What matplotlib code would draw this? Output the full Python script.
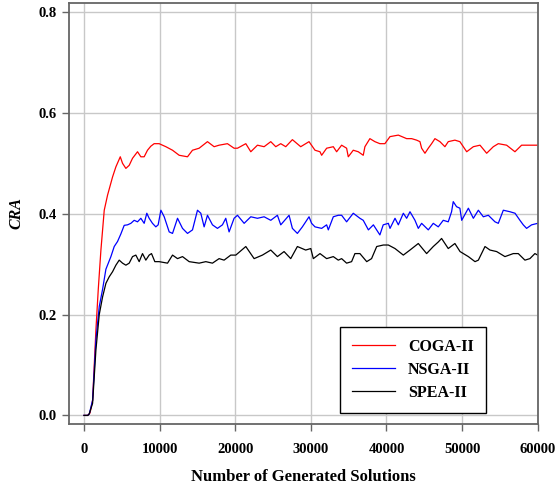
import matplotlib
matplotlib.use("Agg")
import matplotlib.pyplot as plt

# number of generated solutions and CRA values for each algorithm
coga_x = [0, 500, 800, 1140, 1580, 1890, 2240, 2680, 3120, 3780, 4220, 4800, 5100,
          5540, 5980, 6420, 7080, 7520, 7960, 8400, 8840, 9280, 9940, 10830, 11710,
          12590, 13690, 14350, 15230, 16330, 17210, 17870, 18970, 19850, 20300, 21400,
          22060, 22940, 23820, 24700, 25360, 26020, 26680, 27560, 28660, 29760, 30550,
          31210, 31430, 32090, 32970, 33410, 34070, 34730, 34950, 35610, 36270, 36930,
          37150, 37810, 38470, 39130, 39790, 40470, 41570, 42670, 43330, 43990, 44430,
          44650, 45090, 45530, 45970, 46410, 47070, 47730, 48170, 49050, 49710, 50610,
          51490, 52370, 53250, 54130, 54790, 55890, 56990, 57870, 58970, 60000]
coga_y = [0, 0, 0.005, 0.030, 0.170, 0.250, 0.328, 0.407, 0.437, 0.473, 0.493, 0.513,
          0.500, 0.490, 0.496, 0.510, 0.523, 0.513, 0.513, 0.526, 0.534, 0.539, 0.539,
          0.533, 0.526, 0.516, 0.513, 0.526, 0.530, 0.543, 0.533, 0.536, 0.539, 0.530,
          0.530, 0.539, 0.523, 0.536, 0.533, 0.543, 0.533, 0.539, 0.533, 0.547, 0.533,
          0.543, 0.526, 0.523, 0.516, 0.530, 0.533, 0.523, 0.536, 0.530, 0.513, 0.526,
          0.523, 0.516, 0.533, 0.549, 0.543, 0.539, 0.539, 0.553, 0.556, 0.549, 0.549,
          0.546, 0.543, 0.530, 0.520, 0.530, 0.539, 0.549, 0.543, 0.533, 0.543, 0.546,
          0.543, 0.523, 0.533, 0.536, 0.520, 0.533, 0.539, 0.536, 0.523, 0.536, 0.536,
          0.536]

nsga_x = [0, 500, 700, 1140, 1580, 2020, 2460, 2900, 3560, 4000, 4440, 4880, 5320,
          5760, 6200, 6640, 7080, 7520, 7960, 8310, 8620, 9060, 9500, 9810, 10170,
          10610, 11270, 11710, 12370, 13030, 13690, 14350, 15010, 15450, 15890, 16330,
          16990, 17650, 18310, 18750, 19190, 19850, 20300, 21180, 22060, 22940, 23820,
          24700, 25580, 26020, 27120, 27560, 28220, 28880, 29760, 30100, 30550, 31430,
          32090, 32310, 32970, 33630, 34070, 34730, 35610, 36490, 36930, 37610, 38270,
          39130, 39570, 40250, 40470, 41130, 41570, 42230, 42670, 43110, 43770, 44210,
          44650, 45530, 46190, 46850, 47510, 48170, 48610, 48830, 49270, 49710, 49950,
          50830, 51490, 52150, 52810, 53470, 54350, 54790, 55450, 56330, 57000, 57650,
          58090, 58530, 59190, 60000]
nsga_y = [0, 0, 0.003, 0.030, 0.150, 0.216, 0.250, 0.290, 0.315, 0.335, 0.345, 0.360,
          0.377, 0.378, 0.381, 0.387, 0.384, 0.391, 0.381, 0.401, 0.391, 0.381, 0.374,
          0.378, 0.407, 0.394, 0.364, 0.361, 0.391, 0.371, 0.361, 0.368, 0.407, 0.401,
          0.374, 0.397, 0.378, 0.371, 0.378, 0.391, 0.364, 0.391, 0.397, 0.381, 0.394,
          0.391, 0.394, 0.387, 0.397, 0.378, 0.397, 0.371, 0.361, 0.374, 0.394, 0.381,
          0.374, 0.371, 0.378, 0.368, 0.394, 0.397, 0.397, 0.384, 0.401, 0.391, 0.387,
          0.368, 0.378, 0.358, 0.378, 0.381, 0.371, 0.391, 0.378, 0.401, 0.391, 0.404,
          0.387, 0.371, 0.381, 0.368, 0.381, 0.374, 0.387, 0.384, 0.404, 0.424, 0.414,
          0.411, 0.387, 0.411, 0.391, 0.407, 0.394, 0.397, 0.384, 0.381, 0.407, 0.404,
          0.401, 0.387, 0.378, 0.371, 0.378, 0.381]

spea_x = [0, 500, 700, 1140, 1580, 2020, 2460, 2900, 3340, 3780, 4220, 4660, 5100,
          5540, 5980, 6420, 6860, 7300, 7740, 8180, 8620, 8930, 9370, 9940, 11050,
          11710, 12370, 13030, 13910, 15230, 16110, 16990, 17870, 18530, 19410, 20080,
          21400, 22500, 23600, 24700, 25580, 26460, 27340, 28220, 29320, 29990, 30330,
          31210, 32090, 32970, 33630, 34070, 34730, 35390, 35830, 36490, 37390, 38030,
          38710, 39590, 40250, 41130, 42230, 43110, 44210, 45310, 46190, 46850, 47290,
          48170, 49050, 49730, 50830, 51710, 52150, 53030, 53690, 54570, 55670, 56770,
          57430, 58310, 58970, 59630, 60000]
spea_y = [0, 0, 0.003, 0.024, 0.130, 0.200, 0.235, 0.262, 0.275, 0.285, 0.298, 0.308,
          0.302, 0.298, 0.302, 0.315, 0.318, 0.305, 0.321, 0.308, 0.318, 0.321, 0.305,
          0.305, 0.302, 0.318, 0.311, 0.315, 0.305, 0.302, 0.305, 0.302, 0.311, 0.308,
          0.318, 0.318, 0.335, 0.311, 0.318, 0.328, 0.315, 0.325, 0.311, 0.335, 0.328,
          0.331, 0.311, 0.321, 0.311, 0.315, 0.308, 0.311, 0.302, 0.305, 0.321, 0.321,
          0.305, 0.311, 0.335, 0.338, 0.338, 0.331, 0.318, 0.328, 0.341, 0.321, 0.335,
          0.344, 0.351, 0.331, 0.341, 0.325, 0.315, 0.305, 0.308, 0.335, 0.328, 0.325,
          0.315, 0.321, 0.321, 0.308, 0.311, 0.321, 0.318]

x_ticks = [0, 10000, 20000, 30000, 40000, 50000, 60000]
y_ticks = [0.0, 0.2, 0.4, 0.6, 0.8]

plt.rcParams['font.family'] = ['Liberation Serif', 'DejaVu Serif']
plt.rcParams['font.weight'] = 'bold'

fig = plt.figure(figsize=(5.56, 4.87), dpi=100)
ax = fig.add_axes([0.1241, 0.1294, 0.8430, 0.8644])

ax.plot(coga_x, coga_y, color='#ff0000', lw=0.9, label='COGA-II')
ax.plot(nsga_x, nsga_y, color='#0000ff', lw=0.9, label='NSGA-II')
ax.plot(spea_x, spea_y, color='#000000', lw=0.9, label='SPEA-II')

ax.set_xlim(-1980, 60000)
ax.set_ylim(-0.017, 0.818)
ax.set_xticks(x_ticks)
ax.set_yticks(y_ticks)
ax.set_yticklabels(['%.1f' % v for v in y_ticks])
ax.grid(True, color='#c8c8c8', lw=1.0)
ax.set_axisbelow(True)

for sp in ax.spines.values():
    sp.set_color('#666666')
    sp.set_linewidth(1.3)
ax.tick_params(direction='out', length=5, width=1.0, color='#666666',
               labelsize=10.5, pad=4)
ax.tick_params(axis='x', pad=9)
for lab in ax.get_xticklabels() + ax.get_yticklabels():
    lab.set_fontweight('bold')

ax.set_xlabel('Number of Generated Solutions', fontsize=12, fontweight='bold', labelpad=9)
ax.set_ylabel('CRA', fontsize=11.5, fontweight='bold', style='italic', labelpad=10)

leg = ax.legend(loc='lower right', bbox_to_anchor=(0.889, 0.026), fontsize=11.5,
                frameon=True, fancybox=False, edgecolor='black', framealpha=1,
                handlelength=2.7, borderpad=0.75, labelspacing=0.45, handletextpad=0.8,
                borderaxespad=0)
leg.get_frame().set_linewidth(1.0)
for t in leg.get_texts():
    t.set_fontweight('bold')

fig.savefig('out.png', dpi=100)
